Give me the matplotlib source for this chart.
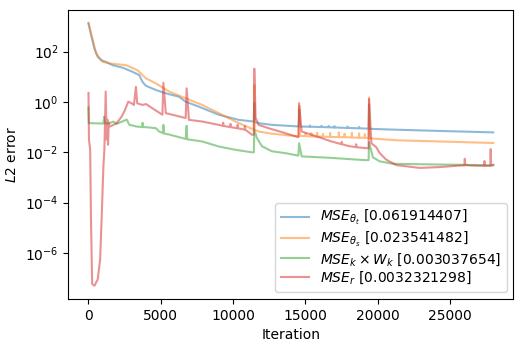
import matplotlib
matplotlib.use("Agg")
import matplotlib.pyplot as plt

# --- loss histories (iteration, L2 error) ---
theta_t_it = [0, 190, 410, 640, 870, 1220, 1670, 2360, 3050, 3510, 3740, 3970,
              4660, 5350, 6260, 6720, 7640, 9020, 10390, 11300, 11440, 11470,
              11500, 11770, 12690, 14500, 14550, 14580, 14620,
              15300, 15320, 15340, 16100, 16120, 16140, 16600, 16620, 16640,
              17000, 17020, 17040, 17900, 17920, 17940, 18700, 18720, 18740,
              19380, 19410, 19440, 21000, 24150, 28000]
theta_t_val = [1380, 445, 132, 62, 46, 39, 29, 23, 15.8, 11.7, 6.3, 4.4,
               3.0, 2.2, 1.62, 1.03, 0.65, 0.31, 0.195, 0.17, 0.17, 0.9,
               0.16, 0.144, 0.123, 0.107, 0.107, 0.5, 0.106,
               0.104, 0.116, 0.104, 0.101, 0.114, 0.101, 0.099, 0.112, 0.099,
               0.097, 0.110, 0.097, 0.093, 0.106, 0.093, 0.090, 0.102, 0.090,
               0.087, 0.8, 0.086, 0.080, 0.071, 0.062]

theta_s_it = [0, 530, 985, 1445, 2595, 3390, 3970, 4660, 5575, 6725, 7870,
              9015, 10165, 11300, 11440, 11470, 11500, 11770, 12685, 14500,
              14550, 14580, 14620,
              15000, 15020, 15040, 15400, 15420, 15440, 15800, 15820, 15840,
              16200, 16220, 16240, 16700, 16720, 16740, 17300, 17320, 17340,
              17700, 17720, 17740, 18200, 18220, 18240, 18700, 18720, 18740,
              19100, 19120, 19140, 19380, 19410, 19440, 21400, 28000]
theta_s_val = [1290, 84, 39, 34, 29, 18.3, 8.7, 5.5, 2.6, 1.4, 0.76,
               0.36, 0.167, 0.086, 0.086, 4.7, 0.08, 0.067, 0.055, 0.043,
               0.043, 0.7, 0.045,
               0.044, 0.056, 0.044, 0.043, 0.058, 0.043, 0.042, 0.060, 0.042,
               0.042, 0.054, 0.042, 0.041, 0.059, 0.041, 0.040, 0.062, 0.040,
               0.040, 0.055, 0.040, 0.039, 0.060, 0.039, 0.038, 0.057, 0.038,
               0.038, 0.053, 0.038, 0.037, 1.5, 0.036, 0.030, 0.0235]

kw_it = [0, 20, 1030, 1080, 1150, 1375, 1720, 1950, 2650, 2820, 3280, 3720,
         3740, 3790, 3970, 4660, 4890, 5160, 5180, 5220, 5575, 6725, 6790,
         6830, 7870, 9015, 10165, 11310, 11440, 11470, 11650, 12000, 12685,
         13605, 14520, 14570, 14750, 16815, 19110, 19380, 19410, 19680,
         20140, 21060, 28000]
kw_val = [0.6, 0.144, 0.14, 0.26, 0.14, 0.14, 0.166, 0.135, 0.2, 0.125, 0.107,
          0.1, 0.15, 0.1, 0.1, 0.091, 0.067, 0.058, 0.123, 0.056, 0.051,
          0.034, 0.113, 0.033, 0.027, 0.017, 0.0126, 0.010, 0.010, 0.08,
          0.037, 0.0175, 0.011, 0.0093, 0.0074, 0.023, 0.0069, 0.0060,
          0.0049, 0.0049, 0.025, 0.0063, 0.0044, 0.0035, 0.00304]

r_it = [0, 34, 117, 172, 255, 413, 640, 805, 915, 1032, 1100, 1190, 1260,
        1308, 1355, 1400, 1445, 1720, 1950, 2290, 2525, 2750, 2980, 3145,
        3280, 3370, 3740, 3970, 4425, 5115, 5180, 5350, 6725, 6790, 6950,
        7870, 9015, 9300, 9320, 9340, 9800, 9820, 9840, 10300, 10320, 10340,
        10800, 10820, 10840, 11310, 11440, 11470, 11560, 11770, 12455,
        13605, 14520, 14570, 14750, 15670, 16815, 17500, 17520, 17540,
        17960, 18500, 18520, 18540, 19110, 19380, 19410, 19570, 19910,
        20130, 20580, 21300, 22920, 24335, 25760, 26000, 26035, 26070,
        26450, 27370, 27390, 27410, 27800, 27825, 27850, 28000]
r_val = [2.3, 0.032, 0.0126, 2.2e-5, 5.9e-8, 5e-8, 9e-8, 5.6e-7, 2.9e-5,
         2.8e-3, 0.0126, 2.6, 0.032, 0.2, 0.02, 0.15, 0.105, 0.123, 0.144,
         0.26, 0.48, 1.03, 0.89, 0.76, 4.0, 0.89, 0.76, 0.83, 0.56, 0.31,
         5.8, 0.36, 0.23, 3.5, 0.195, 0.167, 0.123, 0.112, 0.15, 0.112,
         0.100, 0.135, 0.100, 0.090, 0.125, 0.090, 0.080, 0.11, 0.080,
         0.050, 0.050, 21, 0.24, 0.123, 0.091, 0.058, 0.040, 0.9, 0.067,
         0.045, 0.027, 0.021, 0.026, 0.021, 0.018, 0.016, 0.021, 0.016,
         0.0148, 0.0145, 1.3, 0.023, 0.016, 0.0096, 0.0052, 0.0031,
         0.0024, 0.0026, 0.0030, 0.0030, 0.0055, 0.0031, 0.0030, 0.0029,
         0.0045, 0.0029, 0.0029, 0.0135, 0.0030, 0.0032]

labels = [r"$MSE_{\theta_t}$ [0.061914407]",
          r"$MSE_{\theta_s}$ [0.023541482]",
          r"$MSE_k \times W_k$ [0.003037654]",
          r"$MSE_r$ [0.0032321298]"]

fig, ax = plt.subplots(figsize=(5.25, 3.5), dpi=100)
fig.subplots_adjust(left=0.130, right=0.978, bottom=0.146, top=0.972)

series = [(theta_t_it, theta_t_val), (theta_s_it, theta_s_val),
          (kw_it, kw_val), (r_it, r_val)]
colors = ["tab:blue", "tab:orange", "tab:green", "tab:red"]
for (it, val), c, lab in zip(series, colors, labels):
    ax.plot(it, val, color=c, alpha=0.5, lw=1.5, label=lab)

ax.set_yscale("log")
ax.set_xlabel("Iteration")
ax.set_ylabel(r"$L2$ error")
ax.legend(loc="lower right", labelspacing=0.15)

fig.savefig("out.png", dpi=100)
